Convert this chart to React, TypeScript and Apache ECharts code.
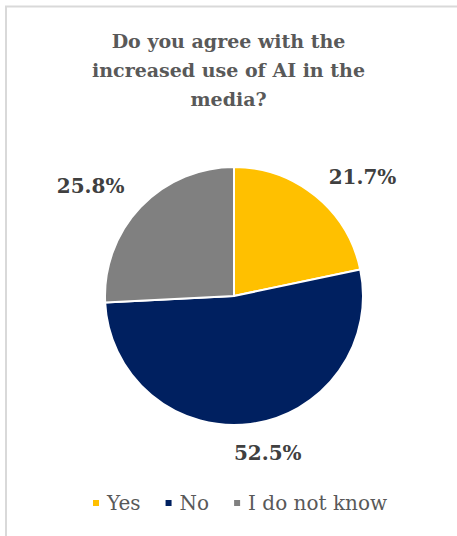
import React, { useEffect, useRef } from "react";
import * as echarts from "echarts";

const titleText = "Do you agree with the\nincreased use of AI in the\nmedia?";
const categories = ["Yes", "No", "I do not know"];
const values = [21.7, 52.5, 25.8];
const colors = ["#FFC000", "#002060", "#808080"];
const labelShift = [
  [-9, -5],
  [-30, 11],
  [8, -9],
];

export default function App() {
  const ref = useRef<HTMLDivElement>(null);
  useEffect(() => {
    if (!ref.current) return;
    const chart = echarts.init(ref.current, undefined, { renderer: "svg" });
    chart.setOption({
      animation: false,
      backgroundColor: "#ffffff",
      title: {
        text: titleText,
        left: "center",
        top: 21,
        textStyle: {
          fontFamily: "DejaVu Serif",
          fontWeight: "bold",
          fontSize: 19,
          color: "#595959",
          lineHeight: 29,
        },
      },
      graphic: [
        { type: "line", shape: { x1: 5, y1: 6.5, x2: 457, y2: 6.5 }, style: { stroke: "#d9d9d9", lineWidth: 2 } },
        { type: "line", shape: { x1: 6, y1: 6, x2: 6, y2: 536 }, style: { stroke: "#d9d9d9", lineWidth: 2 } },
      ],
      legend: {
        bottom: 18,
        left: 86,
        itemWidth: 8,
        itemHeight: 8,
        itemGap: 23,
        icon: "rect",
        textStyle: { fontFamily: "DejaVu Serif", fontSize: 20, color: "#595959", padding: [0, 0, 0, 2] },
        data: categories,
      },
      series: [
        {
          type: "pie",
          center: [234, 296],
          radius: 129,
          startAngle: 90,
          clockwise: true,
          itemStyle: { borderColor: "#ffffff", borderWidth: 2 },
          label: {
            show: true,
            position: "outside",
            formatter: (p: any) => p.value.toFixed(1) + "%",
            fontFamily: "DejaVu Serif",
            fontWeight: "bold",
            fontSize: 20,
            color: "#404040",
          },
          labelLine: { show: false, length: 18, length2: 6 },
          labelLayout: (p: any) => ({ dx: labelShift[p.dataIndex][0], dy: labelShift[p.dataIndex][1] }),
          data: categories.map((c, i) => ({ name: c, value: values[i], itemStyle: { color: colors[i] } })),
        },
      ],
    });
    return () => chart.dispose();
  }, []);
  return <div ref={ref} style={{ position: "absolute", left: 0, top: 0, width: 457, height: 536 }} />;
}
